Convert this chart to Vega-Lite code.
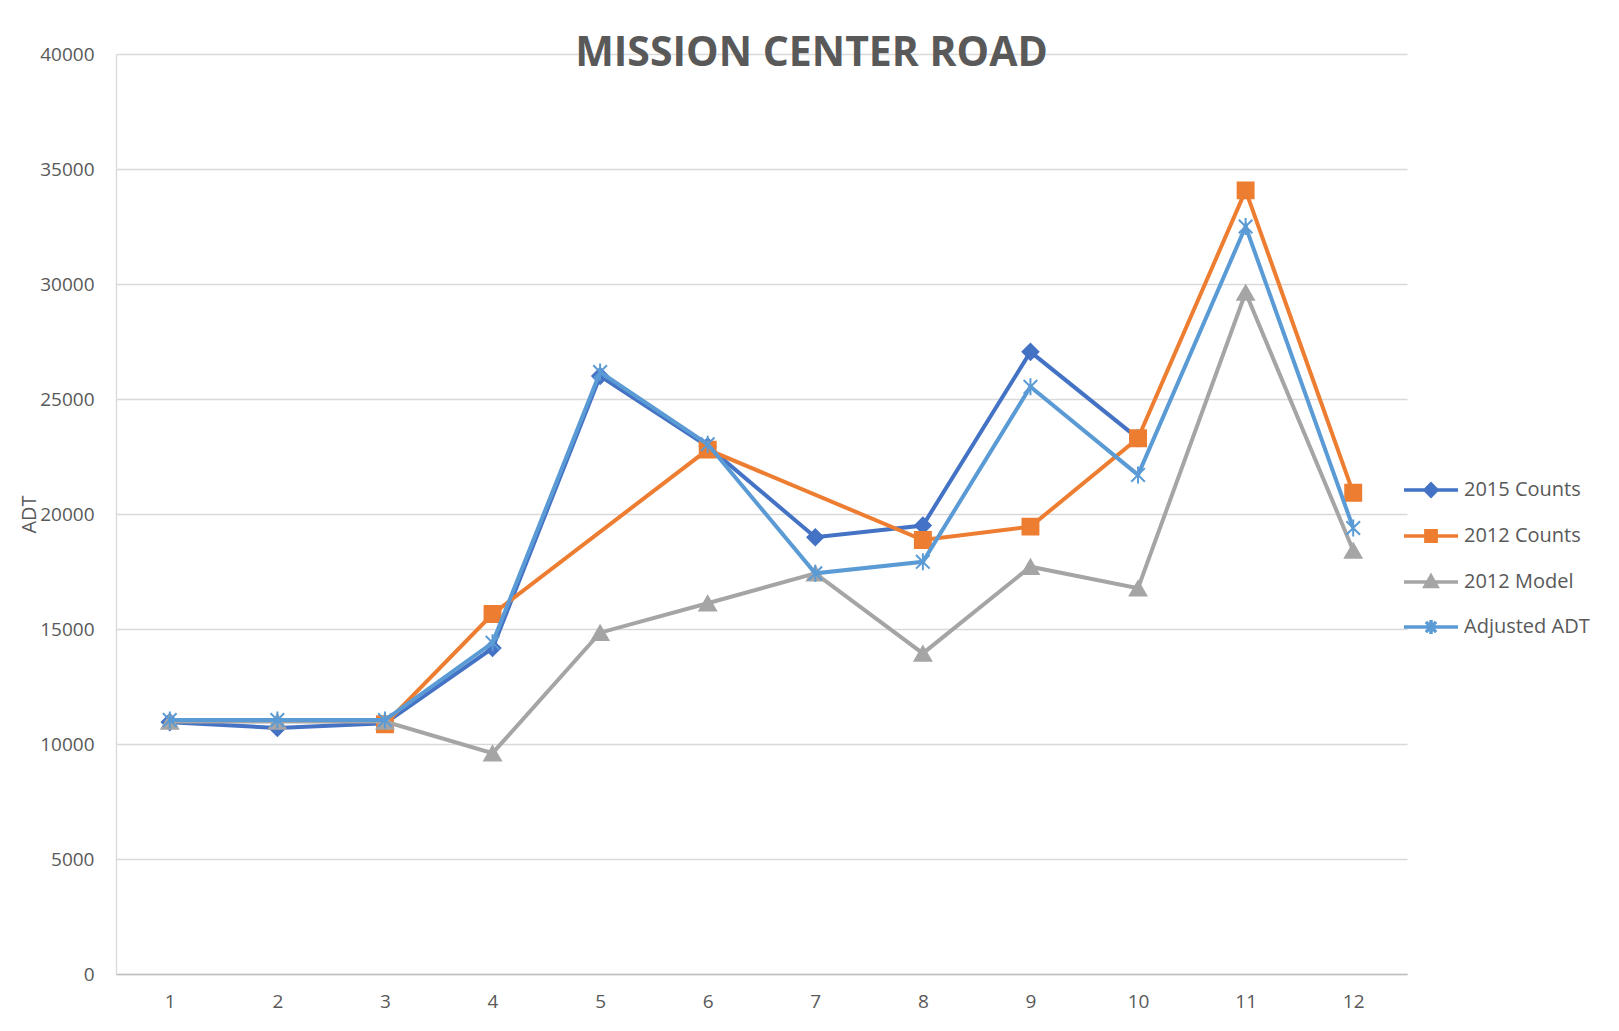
{
  "$schema": "https://vega.github.io/schema/vega-lite/v6.json",
  "width": 1291,
  "height": 920,
  "autosize": {"type": "none"},
  "padding": {"left": 116, "top": 54, "right": 212, "bottom": 57},
  "background": "white",
  "title": {
    "text": "MISSION CENTER ROAD",
    "font": "Open Sans",
    "fontSize": 41,
    "fontWeight": "bold",
    "color": "#595959",
    "anchor": "middle",
    "dx": 50,
    "dy": 48,
    "baseline": "alphabetic",
    "offset": -14
  },
  "config": {
    "view": {"stroke": null},
    "font": "Open Sans"
  },
  "data": {
    "values": [
      {"series": "2015 Counts", "point": 1, "adt": 10950},
      {"series": "2015 Counts", "point": 2, "adt": 10700},
      {"series": "2015 Counts", "point": 3, "adt": 10900},
      {"series": "2015 Counts", "point": 4, "adt": 14170},
      {"series": "2015 Counts", "point": 5, "adt": 26000},
      {"series": "2015 Counts", "point": 6, "adt": 22940},
      {"series": "2015 Counts", "point": 7, "adt": 18990},
      {"series": "2015 Counts", "point": 8, "adt": 19500},
      {"series": "2015 Counts", "point": 9, "adt": 27050},
      {"series": "2015 Counts", "point": 10, "adt": 23290},
      {"series": "2012 Counts", "point": 3, "adt": 10860},
      {"series": "2012 Counts", "point": 4, "adt": 15650},
      {"series": "2012 Counts", "point": 6, "adt": 22800},
      {"series": "2012 Counts", "point": 8, "adt": 18870},
      {"series": "2012 Counts", "point": 9, "adt": 19450},
      {"series": "2012 Counts", "point": 10, "adt": 23290},
      {"series": "2012 Counts", "point": 11, "adt": 34070},
      {"series": "2012 Counts", "point": 12, "adt": 20920},
      {"series": "2012 Model", "point": 1, "adt": 10980},
      {"series": "2012 Model", "point": 2, "adt": 10980},
      {"series": "2012 Model", "point": 3, "adt": 10980},
      {"series": "2012 Model", "point": 4, "adt": 9600},
      {"series": "2012 Model", "point": 5, "adt": 14840},
      {"series": "2012 Model", "point": 6, "adt": 16120},
      {"series": "2012 Model", "point": 7, "adt": 17420},
      {"series": "2012 Model", "point": 8, "adt": 13940},
      {"series": "2012 Model", "point": 9, "adt": 17710},
      {"series": "2012 Model", "point": 10, "adt": 16770},
      {"series": "2012 Model", "point": 11, "adt": 29630},
      {"series": "2012 Model", "point": 12, "adt": 18410},
      {"series": "Adjusted ADT", "point": 1, "adt": 11040},
      {"series": "Adjusted ADT", "point": 2, "adt": 11040},
      {"series": "Adjusted ADT", "point": 3, "adt": 11040},
      {"series": "Adjusted ADT", "point": 4, "adt": 14400},
      {"series": "Adjusted ADT", "point": 5, "adt": 26170},
      {"series": "Adjusted ADT", "point": 6, "adt": 23030},
      {"series": "Adjusted ADT", "point": 7, "adt": 17420},
      {"series": "Adjusted ADT", "point": 8, "adt": 17920},
      {"series": "Adjusted ADT", "point": 9, "adt": 25530},
      {"series": "Adjusted ADT", "point": 10, "adt": 21700},
      {"series": "Adjusted ADT", "point": 11, "adt": 32500},
      {"series": "Adjusted ADT", "point": 12, "adt": 19390}
    ]
  },
  "encoding": {
    "x": {
      "field": "point",
      "type": "ordinal",
      "scale": {"type": "point", "padding": 0.5},
      "axis": {
        "title": null,
        "labelAngle": 0,
        "labelFont": "Open Sans",
        "labelFontSize": 19,
        "labelColor": "#595959",
        "ticks": false,
        "grid": false,
        "domainColor": "#BFBFBF",
        "domainWidth": 1.5,
        "labelPadding": 18
      }
    },
    "y": {
      "field": "adt",
      "type": "quantitative",
      "title": "ADT",
      "scale": {"domain": [0, 40000], "nice": false, "zero": true},
      "axis": {
        "values": [0, 5000, 10000, 15000, 20000, 25000, 30000, 35000, 40000],
        "format": "d",
        "labelFont": "Open Sans",
        "labelFontSize": 19,
        "labelColor": "#595959",
        "ticks": false,
        "grid": true,
        "gridColor": "#D9D9D9",
        "gridWidth": 1.3,
        "domainColor": "#D9D9D9",
        "domainWidth": 1.3,
        "labelPadding": 22,
        "titleFont": "Open Sans",
        "titleFontSize": 20,
        "titleFontWeight": "normal",
        "titleColor": "#595959",
        "titlePadding": 0
      }
    }
  },
  "layer": [
    {
      "transform": [{"filter": "datum.series === '2015 Counts'"}],
      "mark": {"type": "line", "strokeWidth": 4},
      "encoding": {
        "color": {
          "field": "series",
          "type": "nominal",
          "title": null,
          "scale": {
            "domain": ["2015 Counts", "2012 Counts", "2012 Model", "Adjusted ADT"],
            "range": ["#4472C4", "#ED7D31", "#A5A5A5", "#5B9BD5"]
          },
          "legend": {
            "orient": "none",
            "legendX": 1286,
            "legendY": 407,
            "title": null,
            "labelFont": "Open Sans",
            "labelFontSize": 20,
            "labelColor": "#595959",
            "labelOffset": 4,
            "symbolSize": 2916,
            "symbolStrokeWidth": 3.5,
            "symbolOpacity": 1,
            "rowPadding": 4,
            "symbolType": {"expr": "datum.value === '2015 Counts' ? 'M-1,0H1M0,-0.22L0.22,0L0,0.22L-0.22,0Z' : datum.value === '2012 Counts' ? 'M-1,0H1M-0.19,-0.19H0.19V0.19H-0.19Z' : datum.value === '2012 Model' ? 'M-1,0H1M0,-0.22L0.22,0.17H-0.22Z' : 'M-1,0H1M-0.19,-0.19L0.19,0.19M-0.19,0.19L0.19,-0.19M0,-0.26V0.26'"},
            "symbolFillColor": {"expr": "datum.value === '2015 Counts' ? '#4472C4' : datum.value === '2012 Counts' ? '#ED7D31' : datum.value === '2012 Model' ? '#A5A5A5' : '#5B9BD5'"},
            "symbolStrokeColor": {"expr": "datum.value === '2015 Counts' ? '#4472C4' : datum.value === '2012 Counts' ? '#ED7D31' : datum.value === '2012 Model' ? '#A5A5A5' : '#5B9BD5'"}
          }
        }
      }
    },
    {
      "transform": [{"filter": "datum.series === '2015 Counts'"}],
      "mark": {"type": "point", "filled": true, "shape": "diamond", "size": 270, "opacity": 1, "color": "#4472C4", "stroke": "#4472C4", "strokeWidth": 1.5}
    },
    {
      "transform": [{"filter": "datum.series === '2012 Counts'"}],
      "mark": {"type": "line", "strokeWidth": 4},
      "encoding": {"color": {"field": "series", "type": "nominal"}}
    },
    {
      "transform": [{"filter": "datum.series === '2012 Counts'"}],
      "mark": {"type": "point", "filled": true, "shape": "square", "size": 270, "opacity": 1, "color": "#ED7D31", "stroke": "#ED7D31", "strokeWidth": 1.5}
    },
    {
      "transform": [{"filter": "datum.series === '2012 Model'"}],
      "mark": {"type": "line", "strokeWidth": 4},
      "encoding": {"color": {"field": "series", "type": "nominal"}}
    },
    {
      "transform": [{"filter": "datum.series === '2012 Model'"}],
      "mark": {"type": "point", "filled": true, "shape": "triangle-up", "size": 300, "opacity": 1, "color": "#A5A5A5", "stroke": "#A5A5A5", "strokeWidth": 1.5}
    },
    {
      "transform": [{"filter": "datum.series === 'Adjusted ADT'"}],
      "mark": {"type": "line", "strokeWidth": 4},
      "encoding": {"color": {"field": "series", "type": "nominal"}}
    },
    {
      "transform": [{"filter": "datum.series === 'Adjusted ADT'"}],
      "mark": {"type": "point", "filled": true, "shape": "M-0.8,-0.8L0.8,0.8M-0.8,0.8L0.8,-0.8M0,-1V1", "size": 289, "opacity": 1, "color": "#5B9BD5", "stroke": "#5B9BD5", "strokeWidth": 2}
    }
  ]
}
